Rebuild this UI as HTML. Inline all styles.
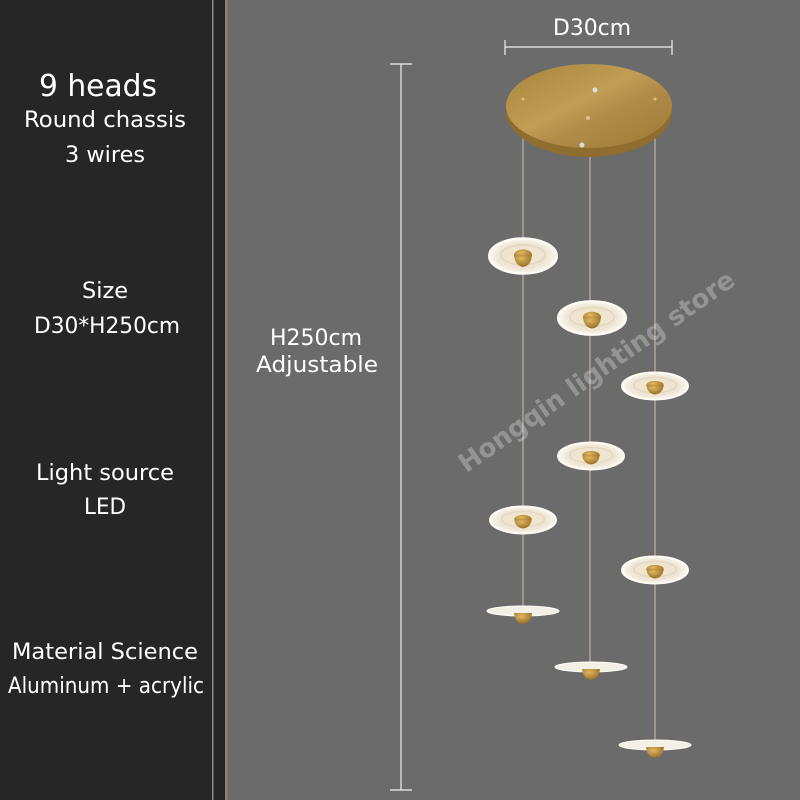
<!DOCTYPE html>
<html><head><meta charset="utf-8"><style>
html,body{margin:0;padding:0;width:800px;height:800px;overflow:hidden;background:#6b6b6b}
svg{display:block}
text{font-family:"DejaVu Sans","Liberation Sans",sans-serif;fill:#fff}
</style></head><body>
<svg width="800" height="800" viewBox="0 0 800 800" xmlns="http://www.w3.org/2000/svg">
<defs>
<linearGradient id="brass" x1="0" y1="0" x2="1" y2="1">
<stop offset="0" stop-color="#a7843c"/><stop offset="0.45" stop-color="#c19d56"/><stop offset="0.6" stop-color="#b08c48"/><stop offset="1" stop-color="#9c7a36"/>
</linearGradient>
<radialGradient id="shade" cx="0.5" cy="0.5" r="0.5">
<stop offset="0" stop-color="#f3e6c8"/><stop offset="0.7" stop-color="#ede4d4"/><stop offset="1" stop-color="#fbf8f0"/>
</radialGradient>
<radialGradient id="cup" cx="0.4" cy="0.3" r="0.8">
<stop offset="0" stop-color="#e0b760"/><stop offset="1" stop-color="#8a6320"/>
</radialGradient>
<g id="flower">
<ellipse cx="0" cy="0" rx="34" ry="16" fill="url(#shade)" stroke="#fffdf6" stroke-width="2"/>
<ellipse cx="0" cy="-1" rx="22" ry="9" fill="none" stroke="#e6d8be" stroke-width="1.5"/>
<ellipse cx="0" cy="-1" rx="9" ry="5" fill="url(#cup)"/>
<path d="M-9,-1 Q-8,9 0,10 Q8,9 9,-1 Z" fill="url(#cup)"/>
</g>
<g id="disk">
<ellipse cx="0" cy="0" rx="36" ry="5" fill="#f5f0e6" stroke="#fffef8" stroke-width="1"/>
<path d="M-9,2 Q-8,12 0,13 Q8,12 9,2 Z" fill="url(#cup)"/>
</g>
</defs>
<rect x="0" y="0" width="226" height="800" fill="#262626"/>
<rect x="212" y="0" width="1.5" height="800" fill="#8a8a8a"/>
<rect x="225" y="0" width="2.5" height="800" fill="#8e7f70"/>
<rect x="227.5" y="0" width="573" height="800" fill="#6b6b6b"/>

<text x="98" y="96" font-size="30" text-anchor="middle" textLength="118" lengthAdjust="spacingAndGlyphs">9 heads</text>
<text x="105" y="127" font-size="22" text-anchor="middle" textLength="162" lengthAdjust="spacingAndGlyphs">Round chassis</text>
<text x="105" y="162" font-size="22" text-anchor="middle" textLength="80" lengthAdjust="spacingAndGlyphs">3 wires</text>
<text x="105" y="298" font-size="22" text-anchor="middle" textLength="46" lengthAdjust="spacingAndGlyphs">Size</text>
<text x="107" y="333" font-size="22" text-anchor="middle" textLength="146" lengthAdjust="spacingAndGlyphs">D30*H250cm</text>
<text x="105" y="480" font-size="22" text-anchor="middle" textLength="138" lengthAdjust="spacingAndGlyphs">Light source</text>
<text x="105" y="514" font-size="22" text-anchor="middle" textLength="42" lengthAdjust="spacingAndGlyphs">LED</text>
<text x="105" y="659" font-size="22" text-anchor="middle" textLength="186" lengthAdjust="spacingAndGlyphs">Material Science</text>
<text x="106" y="693" font-size="22" text-anchor="middle" textLength="196" lengthAdjust="spacingAndGlyphs">Aluminum + acrylic</text>

<g stroke="#f0f0f0" stroke-width="1.2">
<line x1="401" y1="64" x2="401" y2="790"/>
<line x1="390" y1="64" x2="412" y2="64"/>
<line x1="390" y1="790" x2="412" y2="790"/>
<line x1="505" y1="47" x2="672" y2="47"/>
<line x1="505" y1="40" x2="505" y2="55"/>
<line x1="672" y1="40" x2="672" y2="55"/>
</g>
<text x="316" y="345" font-size="22" text-anchor="middle" textLength="92" lengthAdjust="spacingAndGlyphs">H250cm</text>
<text x="317" y="372" font-size="22" text-anchor="middle" textLength="122" lengthAdjust="spacingAndGlyphs">Adjustable</text>
<text x="592" y="35" font-size="22" text-anchor="middle" textLength="78" lengthAdjust="spacingAndGlyphs">D30cm</text>

<g stroke="#b8ada0" stroke-width="1.3">
<line x1="523" y1="100" x2="523" y2="610"/>
<line x1="590" y1="155" x2="590" y2="668"/>
<line x1="655" y1="100" x2="655" y2="745"/>
</g>
<ellipse cx="589" cy="111" rx="83" ry="46" fill="#8f6d2e"/>
<ellipse cx="589" cy="106" rx="83" ry="42" fill="url(#brass)"/>
<circle cx="595" cy="90" r="2.5" fill="#ddd"/>
<circle cx="588" cy="118" r="2" fill="#d8c28a"/>
<circle cx="582" cy="145" r="2.5" fill="#ddd"/>
<circle cx="523" cy="99" r="1.5" fill="#d8c28a"/>
<circle cx="655" cy="99" r="1.5" fill="#d8c28a"/>

<text x="597" y="380" font-size="26" font-weight="bold" text-anchor="middle" style="fill:rgba(255,255,255,0.28)" transform="rotate(-35 597 372)" textLength="330" lengthAdjust="spacingAndGlyphs">Hongqin lighting store</text>

<use href="#flower" transform="translate(523,256) scale(1,1.1)"/>
<use href="#flower" transform="translate(592,318) scale(1,1.05)"/>
<use href="#flower" transform="translate(655,386) scale(0.97,0.85)"/>
<use href="#flower" transform="translate(591,456) scale(0.97,0.85)"/>
<use href="#flower" transform="translate(523,520) scale(0.97,0.85)"/>
<use href="#flower" transform="translate(655,570) scale(0.97,0.85)"/>
<use href="#disk" transform="translate(523,611)"/>
<use href="#disk" transform="translate(591,667)"/>
<use href="#disk" transform="translate(655,745)"/>
</svg>
</body></html>
